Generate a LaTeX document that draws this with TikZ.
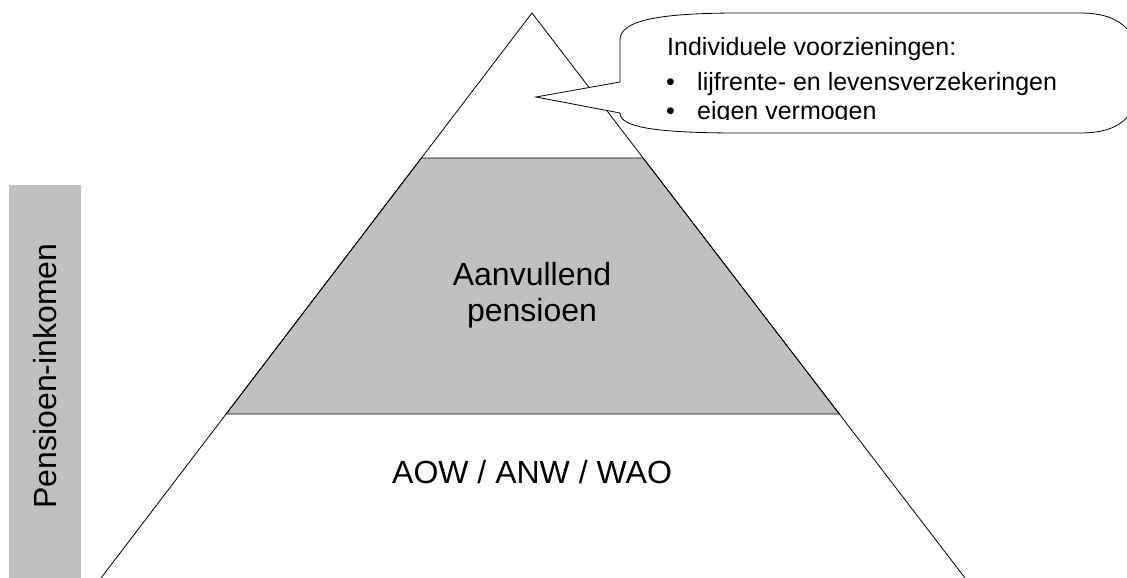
\documentclass[tikz,border=0pt]{standalone}
\usepackage{fontspec}
\setmainfont{Liberation Sans}
\usetikzlibrary{positioning, calc}
\definecolor{bandgray}{RGB}{192,192,192}

\begin{document}
\begin{tikzpicture}[x=1pt, y=-1pt,
    layer/.style={draw=black, line width=0.8pt, fill=bandgray},
    lbl/.style={font=\fontsize{32}{36}\selectfont, align=center},
    note/.style={font=\fontsize{25}{29}\selectfont, anchor=base west, inner sep=0pt}]

    \useasboundingbox (0,0) rectangle (1127,578);

    \coordinate (T) at (532,13);
    \coordinate (L) at (101,578);
    \coordinate (R) at (965,578);

    % side bar
    \fill[bandgray] (9,185) rectangle (81,578);
    \node[lbl, rotate=90] (side) at (45,376) {Pensioen-inkomen};

    % pyramid with the middle layer
    \draw[layer] ($(T)!0.2566!(L)$) -- ($(T)!0.2566!(R)$)
        -- ($(T)!0.7097!(R)$) -- ($(T)!0.7097!(L)$) -- cycle;
    \draw[line width=0.8pt] (L) -- (T) -- (R);

    \node[lbl] (aanv) at (532,295) {Aanvullend\\pensioen};
    \node[lbl] (aow) at (532,472) {AOW / ANW / WAO};

    % callout
    \coordinate (tip) at (536,97);
    \draw[line width=0.8pt, fill=white] (620,113) -- (tip) -- (620,82) -- (620,40)
        .. controls (620,20) and (660,13) .. (740,13) -- (1080,13)
        .. controls (1125,13) and (1140,35) .. (1140,73)
        .. controls (1140,112) and (1125,133) .. (1080,133) -- (740,133)
        .. controls (660,133) and (620,128) .. (620,113);

    \begin{scope}
        \clip (600,0) rectangle (1127,119);
        \node[note] (kop) at (667,56) {Individuele voorzieningen:};
        \foreach \y/\t [count=\i] in {90/lijfrente- en levensverzekeringen, 119/eigen vermogen} {
            \node[note] (dot\i) at (666,\y) {\textbullet};
            \node[note] (item\i) at (697,\y) {\t};
        }
    \end{scope}

\end{tikzpicture}
\end{document}
